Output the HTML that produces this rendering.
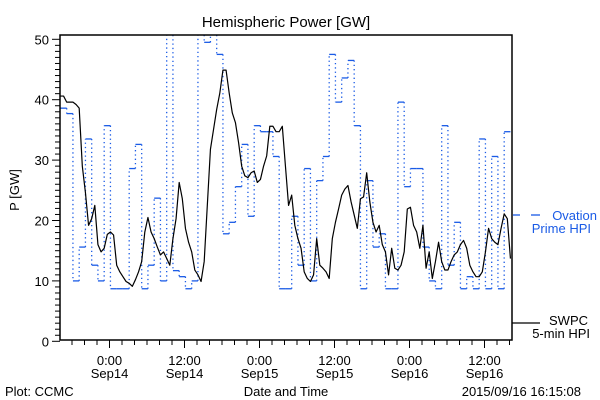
<!DOCTYPE html>
<html><head><meta charset="utf-8"><style>
html,body{margin:0;padding:0;background:#fff;}
svg{display:block;font-family:"Liberation Sans","DejaVu Sans",sans-serif;}
</style></head><body>
<svg id="chart" width="600" height="400" viewBox="0 0 600 400" xmlns="http://www.w3.org/2000/svg">
<rect x="0" y="0" width="600" height="400" fill="#fff"/>
<text x="286" y="27" font-size="15" text-anchor="middle" fill="#000">Hemispheric Power [GW]</text>
<text x="0" y="0" font-size="13" text-anchor="middle" fill="#000" transform="translate(19,190) rotate(-90)">P [GW]</text>
<g id="yticks"></g>
<g id="xticks"></g>
<g id="series"></g>
<rect x="60" y="35" width="452" height="305" fill="none" stroke="#000" stroke-width="1.5"/>
<text x="286" y="396" font-size="13" text-anchor="middle">Date and Time</text>
<text x="5" y="396" font-size="13">Plot: CCMC</text>
<text x="581" y="396" font-size="13" text-anchor="end">2015/09/16 16:15:08</text>
<g>
<line x1="513" y1="215" x2="520" y2="215" stroke="#1a5be6" stroke-width="1.3"/>
<line x1="531" y1="215" x2="540" y2="215" stroke="#1a5be6" stroke-width="1.3"/>
<text x="597" y="220" font-size="13" text-anchor="end" fill="#1a5be6">Ovation</text>
<text x="591" y="233" font-size="13" text-anchor="end" fill="#1a5be6">Prime HPI</text>
</g>
<g>
<line x1="512" y1="323" x2="540" y2="323" stroke="#000" stroke-width="1.3"/>
<text x="588" y="325" font-size="13" text-anchor="end">SWPC</text>
<text x="590" y="338" font-size="13" text-anchor="end">5-min HPI</text>
</g>
</svg>
<script>
// Ovation Prime HPI: hourly values starting at blueStart (hours from Sep14 00:00)
const blueStart = -7.85;
const ovationValues = [38.6,37.7,10,15.6,33.5,12.6,10,35.7,8.7,8.7,8.7,28.6,32.6,8.7,12.6,23.7,10,55,11.7,10.7,8.7,10,55,49.5,55,47.5,17.8,19.7,25.6,32.6,20.7,35.7,34.7,34.7,30.6,8.7,8.7,20.7,12.6,28.6,10,26.6,30.6,47.5,39.6,43.6,46.5,35.7,8.7,26.6,15.6,17.8,8.7,8.7,39.6,25.6,28.6,28.6,15.6,10,8.7,35.7,12.6,19.7,8.7,10.7,8.7,33.5,8.7,30.6,8.7,34.7];
// SWPC 5-min HPI, sampled every half hour from blackStart
const blackStart = -7.85;
const blackStep = 0.5;
const swpcValues = [40.6,40.6,39.6,39.6,39.6,39.2,38.6,29,24.6,19.2,20.3,22.5,16,14.8,15.4,17.7,18.1,17.6,12.6,11.5,10.7,9.9,9.6,9.1,10.2,11.5,13.2,18.1,20.5,18.1,17,15.6,14.3,14.8,13.7,12.6,17,20.3,26.3,23.6,18.7,16.4,14.8,11.8,11,9.9,13.2,22.5,31.8,35.1,38.4,41.1,44.9,44.9,41.1,37.8,36.2,32.9,29,27.4,27.1,27.9,28.2,26.3,26.8,29,30.7,35.6,35.6,34.7,34.7,35.6,29,22.5,24.2,19.2,17,15.4,11.5,10.4,9.9,11,17,12.6,12.1,11.5,10.4,17,19.7,21.9,24.2,25.2,25.8,23.1,20.9,18.7,23.6,23.9,27.9,23.1,19.7,18.1,19.2,16,14.8,11,15.4,12.1,11.8,12.6,14.8,21.9,22.2,19.2,18.1,15.4,19.2,12.1,14.8,10.4,13.2,16.4,13.2,11.8,11.8,13.2,14.3,14.8,16,16.7,15.4,12.6,11.5,10.7,10.7,11.5,14.8,18.7,17,16.4,16,18.7,21.1,20.3,13.7];
const yTickLabels = ["0","10","20","30","40","50"];
const xTickHours = [0,12,24,36,48,60];
const xTickTimes = ["0:00","12:00","0:00","12:00","0:00","12:00"];
const xTickDates = ["Sep14","Sep14","Sep15","Sep15","Sep16","Sep16"];

const NS="http://www.w3.org/2000/svg";
const L=60,R=512,T=35,B=340;
function xs(h){return 109.5+h*6.25;}
function ys(v){return 341.3-v*6.04;}
function mk(tag,attrs,parent){const e=document.createElementNS(NS,tag);for(const k in attrs)e.setAttribute(k,attrs[k]);parent.appendChild(e);return e;}

const yg=document.getElementById('yticks');
for(let v=0;v<=50;v++){
  const y=ys(v);const major=v%10===0;
  const t=mk('line',{x1:major?52:55,x2:L,y1:y,y2:y,stroke:'#000','stroke-width':1},yg);
  
  
}
yTickLabels.forEach(s=>{
  const t=mk('text',{x:49,y:ys(+s)+5,'font-size':13,'text-anchor':'end'},yg);t.textContent=s;
  
  
});
const xg=document.getElementById('xticks');
for(let h=-6;h<=64;h+=2){
  const x=xs(h);if(x<L||x>R)continue;const major=h%12===0;
  const t=mk('line',{x1:x,x2:x,y1:B,y2:major?348:345,stroke:'#000','stroke-width':1},xg);
  
  
}
xTickHours.forEach((h,i)=>{
  const a=mk('text',{x:xs(h),y:365,'font-size':13,'text-anchor':'middle'},xg);a.textContent=xTickTimes[i];
  
  
  const b=mk('text',{x:xs(h),y:378,'font-size':13,'text-anchor':'middle'},xg);b.textContent=xTickDates[i];
  
  
});

const sg=document.getElementById('series');
const clip=mk('clipPath',{id:'pc'},sg);mk('rect',{x:L,y:T,width:R-L,height:B-T},clip);
const cg=mk('g',{'clip-path':'url(#pc)'},sg);
let vd='';
ovationValues.forEach((v,i)=>{
  const x0=xs(blueStart+i),x1=xs(blueStart+i+1),y=ys(v);
  const s=mk('line',{x1:x0,x2:x1,y1:y,y2:y,stroke:'#1a5be6','stroke-width':1.3},cg);
  
  
  if(i>0){vd+='M'+x0+' '+ys(ovationValues[i-1])+'V'+y;}
});
const vp=mk('path',{d:vd,stroke:'#1a5be6','stroke-width':1.3,fill:'none','stroke-dasharray':'1.3 3'},cg);


let d='';
swpcValues.forEach((v,i)=>{
  const x=xs(blackStart+i*blackStep),y=ys(v);
  d+=(i===0?'M':'L')+x+' '+y;
});
const bp=mk('path',{d:d,stroke:'#000','stroke-width':1.2,fill:'none','stroke-linejoin':'round'},cg);


</script>
</body></html>
